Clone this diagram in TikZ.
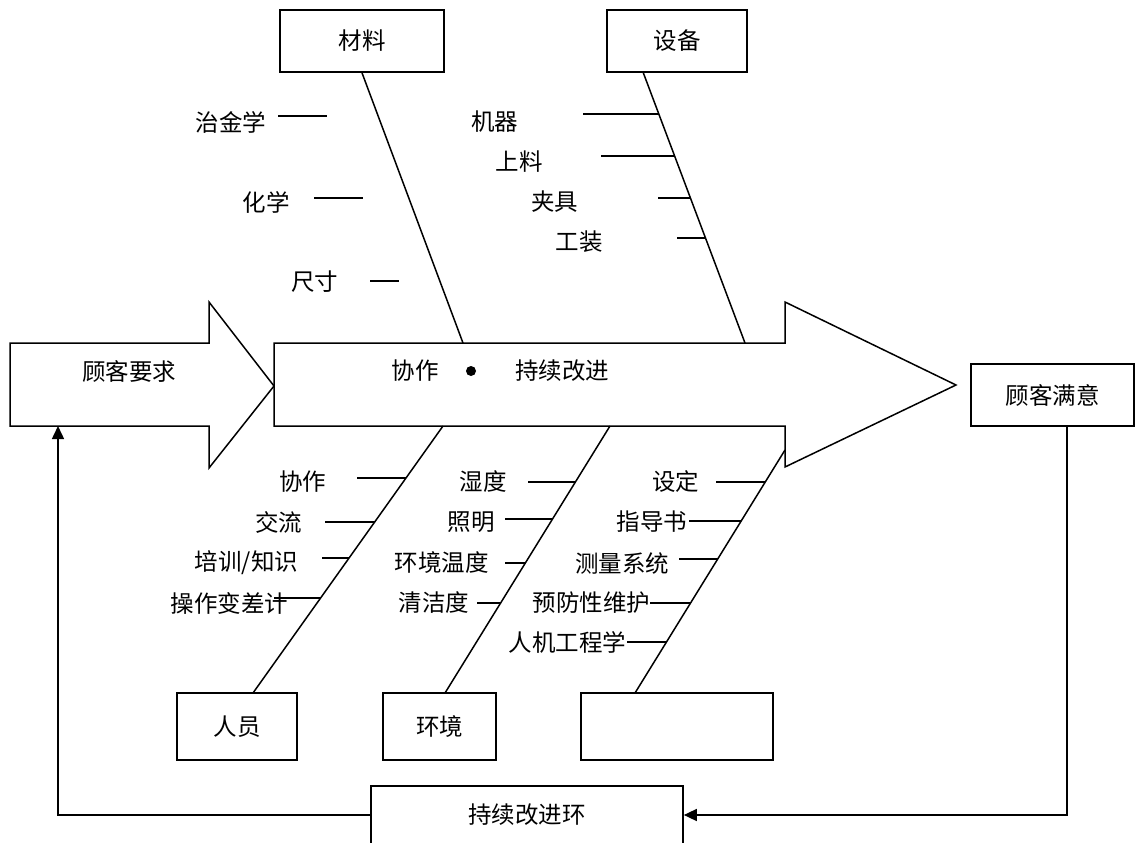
\documentclass[tikz,border=0pt]{standalone}
\usepackage{fontspec}
\newfontfamily\cjk{Noto Sans CJK SC}
\usetikzlibrary{arrows.meta}
\begin{document}
\begin{tikzpicture}[x=1pt,y=-1pt,line width=1.5pt,
  lbl/.style={font=\cjk\fontsize{23.5}{27}\selectfont,inner sep=0pt},
  box/.style={draw,line width=1.7pt,inner sep=0pt,font=\cjk\fontsize{23.5}{27}\selectfont},
  fb/.style={line width=1.5pt},
  tip/.style={-{Triangle[length=13pt,width=12pt]}}]
\useasboundingbox (0,0) rectangle (1136,843);
\clip (0,0) rectangle (1136,843);
% block arrows
\draw[line width=1.5pt,line join=miter] (10,343) -- (209,343) -- (209,302) -- (274,386) -- (209,468) -- (209,426) -- (10,426) -- cycle;
\draw[line width=1.5pt,line join=miter] (274,343) -- (785,343) -- (785,302) -- (956,385) -- (785,467) -- (785,426) -- (274,426) -- cycle;
\node[lbl] (req) at (129,371) {顾客要求};
\node[lbl] (coop) at (415,371) {协作};
\fill (471,371) circle (5);
\node[lbl] (ci) at (562,371) {持续改进};
% category boxes
\node[box,minimum width=164pt,minimum height=62pt] (mat) at (362,41) {材料};
\node[box,minimum width=140pt,minimum height=62pt] (equ) at (677,41) {设备};
\node[box,minimum width=120pt,minimum height=67pt] (man) at (237,726.5) {人员};
\node[box,minimum width=113pt,minimum height=67pt] (env) at (439.5,726.5) {环境};
\node[box,minimum width=192pt,minimum height=67pt] (blank) at (677,726.5) {};
\node[box,minimum width=163pt,minimum height=62pt] (sat) at (1052.5,395) {顾客满意};
\node[box,minimum width=312pt,minimum height=58pt] (ring) at (527,815) {持续改进环};
% bones
\coordinate (m1) at (463,343);
\coordinate (e0) at (643,72);
\coordinate (e1) at (745,343);
\coordinate (p1) at (443,426);
\coordinate (p0) at (253,693);
\coordinate (v1) at (610,426);
\coordinate (v0) at (445,693);
\coordinate (b1) at (785,450);
\coordinate (b0) at (635,693);
\draw (mat.south) -- (m1);
\draw (e0) -- (e1);
\draw (p0) -- (p1);
\draw (v0) -- (v1);
\draw (b0) -- (b1);
% material causes
\node[lbl] (t1) at (231,122) {治金学};
\node[lbl] (t2) at (266,202) {化学};
\node[lbl] (t3) at (314.5,282) {尺寸};
\draw (278,116) -- (327,116);
\draw (314,198) -- (363,198);
\draw (370,281) -- (399,281);
% equipment causes
\node[lbl] (q1) at (494.5,122) {机器};
\node[lbl] (q2) at (519,162) {上料};
\node[lbl] (q3) at (554.5,202) {夹具};
\node[lbl] (q4) at (579,242) {工装};
\draw (583,114) -- (658.8,114);
\draw (601,156) -- (674.6,156);
\draw (658,198) -- (690.4,198);
\draw (677,238) -- (705.5,238);
% people causes
\node[lbl] (r1) at (302.5,482) {协作};
\node[lbl] (r2) at (278.5,522) {交流};
\node[lbl] (r3) at (246.5,563) {培训/知识};
\node[lbl] (r4) at (229.5,603) {操作变差计};
\draw (357,478) -- (406,478);
\draw (325,522) -- (374.7,522);
\draw (322,558) -- (349.1,558);
\draw (274,598) -- (320.6,598);
% environment causes
\node[lbl] (s1) at (483,482) {湿度};
\node[lbl] (s2) at (471,522) {照明};
\node[lbl] (s3) at (441.5,563) {环境温度};
\node[lbl] (s4) at (434,603) {清洁度};
\draw (528,482) -- (575.4,482);
\draw (505,519) -- (552.5,519);
\draw (505,563) -- (525.3,563);
\draw (477,603) -- (500.6,603);
% third bone causes
\node[lbl] (u1) at (675.5,482) {设定};
\node[lbl] (u2) at (652,522) {指导书};
\node[lbl] (u3) at (622,563) {测量系统};
\node[lbl] (u4) at (591.5,603) {预防性维护};
\node[lbl] (u5) at (567.5,642) {人机工程学};
\draw (716,482) -- (765.2,482);
\draw (689,521) -- (741.2,521);
\draw (679,559) -- (717.7,559);
\draw (650,603) -- (690.6,603);
\draw (627,642) -- (666.5,642);
% feedback loop
\coordinate (s0) at (1067,426);
\coordinate (sc) at (1067,815);
\coordinate (l0) at (58,815);
\coordinate (l1) at (58,426);
\draw[fb,tip] (s0) -- (sc) -- (ring.east);
\draw[fb,tip] (ring.west) -- (l0) -- (l1);
\end{tikzpicture}
\end{document}
